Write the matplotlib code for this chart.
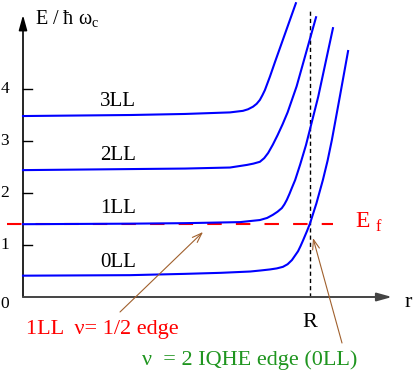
import matplotlib
matplotlib.use('Agg')
import matplotlib.pyplot as plt

plt.rcParams['font.family'] = ['Liberation Serif', 'DejaVu Serif']
plt.rcParams['mathtext.fontset'] = 'custom'
plt.rcParams['mathtext.rm'] = 'Liberation Serif'
plt.rcParams['lines.scale_dashes'] = False

# Landau level curves: r and E / (hbar w_c)
r_0ll = [0, 2.97, 4.5, 5.5, 6.31, 6.6, 6.86, 7.05, 7.22, 7.35, 7.47, 7.56, 7.64,
         7.71, 7.78, 7.89, 7.97, 8.15, 8.33, 8.46, 8.58, 8.80, 9.03]
e_0ll = [0.41, 0.42, 0.445, 0.465, 0.49, 0.51, 0.53, 0.55, 0.58, 0.63, 0.71, 0.80,
         0.88, 0.98, 1.09, 1.27, 1.41, 1.80, 2.25, 2.62, 3.02, 3.85, 4.73]
r_1ll = [0, 2.97, 4.5, 6.03, 6.3, 6.58, 6.78, 6.94, 7.07, 7.19, 7.26, 7.33, 7.40,
         7.47, 7.56, 7.70, 7.86, 8.2, 8.61]
e_1ll = [1.40, 1.41, 1.42, 1.44, 1.46, 1.48, 1.52, 1.58, 1.64, 1.71, 1.78, 1.87,
         1.98, 2.10, 2.25, 2.55, 2.92, 3.85, 5.17]
r_2ll = [0, 2.97, 4.5, 5.75, 6.22, 6.40, 6.58, 6.70, 6.81, 6.94, 7.07, 7.21, 7.35,
         7.6, 8.14]
e_2ll = [2.44, 2.46, 2.47, 2.49, 2.54, 2.565, 2.60, 2.67, 2.77, 2.93, 3.11, 3.32,
         3.55, 4.05, 5.38]
r_3ll = [0, 3.0, 4.5, 5.75, 6.11, 6.25, 6.39, 6.49, 6.58, 6.65, 6.72, 6.79, 6.86,
         7.00, 7.58]
e_3ll = [3.48, 3.50, 3.52, 3.55, 3.58, 3.61, 3.66, 3.715, 3.79, 3.88, 3.98, 4.11,
         4.24, 4.52, 5.65]
curve_r = [r_0ll, r_1ll, r_2ll, r_3ll]
curve_e = [e_0ll, e_1ll, e_2ll, e_3ll]
level_names = ['0LL', '1LL', '2LL', '3LL']

e_fermi = 1.41
r_edge = 7.97
ytick_vals = [1, 2, 3, 4]
ytick_labels = ['1', '2', '3', '4']

# pixel -> data helper for placing texts / arrows
X0, Y0, SX, SY = 23, 297, 36, 52
def px(x, y):
    return ((x - X0) / SX, (Y0 - y) / SY)

fig = plt.figure(figsize=(4.15, 3.74), dpi=100)
ax = fig.add_axes([0, 0, 1, 1])
ax.set_xlim(px(0, 0)[0], px(415, 0)[0])
ax.set_ylim(px(0, 374)[1], px(0, 0)[1])
ax.axis('off')

# axes with arrows
ax.annotate('', xy=(0, px(0, 15)[1]), xytext=(0, 0),
            arrowprops=dict(arrowstyle='-|>,head_length=0.9,head_width=0.25',
                            lw=1.2, color='black', shrinkA=0, shrinkB=0))
ax.annotate('', xy=(px(392, 0)[0], 0), xytext=(0, 0),
            arrowprops=dict(arrowstyle='-|>,head_length=0.9,head_width=0.25',
                            lw=1.4, color='#444444', shrinkA=0, shrinkB=0))
for t, lab in zip(ytick_vals, ytick_labels):
    ax.plot([0, 0.25], [t, t], color='black', lw=1)
    ax.text(px(5, 0)[0], t, lab, ha='center', va='center', fontsize=12.5)
ax.text(*px(5, 304), '0', ha='center', va='center', fontsize=12.5)

# Fermi level
ax.plot([px(7, 0)[0], px(333, 0)[0]], [e_fermi, e_fermi], color='red', lw=1.5,
        dashes=(10.4, 10.2), zorder=2)
# edge R
ax.plot([r_edge, r_edge], [0, px(0, 10)[1]], color='black', lw=1,
        dashes=(3, 2.2), zorder=2)

for rr, ee in zip(curve_r, curve_e):
    ax.plot(rr, ee, color='blue', lw=1.5, zorder=3, solid_joinstyle='round')

for name, base in zip(level_names, [267, 213, 160, 106]):
    ax.text(*px(118, base), name, ha='center', va='baseline', fontsize=15)

ax.text(*px(35, 25), r'E / ħ ω$_{\mathrm{c}}$', ha='left', va='baseline', fontsize=14.5)
ax.text(*px(355, 228), r'E $_{\mathrm{f}}$', ha='left', va='baseline', fontsize=17,
        color='red')
ax.text(*px(310, 327), 'R', ha='center', va='baseline', fontsize=16)
ax.text(*px(408, 307), 'r', ha='center', va='baseline', fontsize=16)

ax.text(*px(26, 334), '1LL  ν= 1/2 edge', ha='left', va='baseline', fontsize=16,
        color='red')
ax.text(*px(142, 365), 'ν  = 2 IQHE edge (0LL)', ha='left', va='baseline',
        fontsize=16, color='#1f951f')

brown = '#a0602d'
ax.annotate('', xy=px(203, 232), xytext=px(120, 312),
            arrowprops=dict(arrowstyle='->,head_length=0.7,head_width=0.25',
                            lw=0.8, color=brown, shrinkA=0, shrinkB=0))
ax.annotate('', xy=px(313, 238), xytext=px(342, 343),
            arrowprops=dict(arrowstyle='->,head_length=0.7,head_width=0.25',
                            lw=0.8, color=brown, shrinkA=0, shrinkB=0))

fig.savefig('out.png', dpi=100)
